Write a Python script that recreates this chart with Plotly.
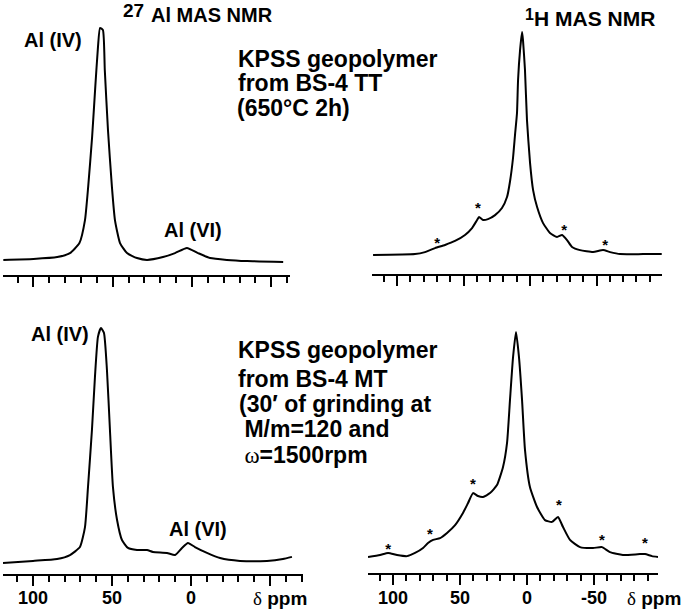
import plotly.graph_objects as go

W, H = 685, 612

# ---------------- data ----------------
# 27Al MAS NMR, geopolymer from BS-4 TT (chemical shift ppm, relative intensity)
al_tt_ppm = [119, 100, 85, 77, 71, 67.5, 65.5, 63, 61, 59.3, 58, 56.2, 55, 53, 50.5,
             48.6, 45.4, 41, 34.7, 28.4, 18.3, 10.7, 3.2, -3.8, -11.4, -22, -34.7, -57.5]
al_tt_int = [0.9, 1.3, 2.1, 3.8, 8.1, 17.9, 32, 53.4, 74.8, 91.9, 100, 99.1, 82, 56.4, 32,
             17.9, 8.1, 3.8, 1.7, 0.9, 2.1, 3.8, 6.0, 3.8, 1.7, 0.9, 0.4, 0]

# 1H MAS NMR, geopolymer from BS-4 TT
h_tt_ppm = [118, 86.5, 79, 71.4, 63.9, 56.4, 48.9, 43.6, 39.8, 38.3, 35.3, 31.6, 26.3,
            21.1, 17.3, 15, 12.8, 11.3, 9.8, 9, 7.5, 6, 5.3, 3.8, 2.3, 0, -2.3, -5.3,
            -9.8, -15, -20.3, -24.1, -27.8, -31.6, -37.6, -47.4, -54.9, -60.2, -67.7,
            -85, -99]
h_tt_int = [0, 0.4, 1.3, 3.1, 4.5, 6.3, 9, 12.1, 15.7, 17, 15.7, 16.1, 17.9,
            21.1, 26, 33.2, 43.5, 53.8, 63.7, 78.5, 91.9, 100, 96.4, 83, 60.5, 41.3, 29.1, 21.5,
            14.3, 9.9, 8.1, 9.0, 6.7, 3.6, 2.2, 1.3, 2.2, 1.3, 0.4,
            0.4, 0.4]

# 27Al MAS NMR, geopolymer from BS-4 MT
al_mt_ppm = [119, 100, 84.8, 76.6, 70.3, 67.1, 65.2, 62.7, 60.8, 58.9, 57, 55.1, 53.2,
             51.3, 49.4, 46.8, 43.7, 39.9, 34.2, 27.8, 24.1, 15.2, 10.1, 5.7, 1.9, -2.5,
             -10.1, -18.4, -31, -48.1, -58.2, -63.9]
al_mt_int = [0, 0.9, 1.7, 3.4, 6.8, 15.3, 32.3, 56.6, 79.1, 96.2, 100, 97.9, 82.1,
             56.6, 32.3, 18.3, 9.8, 6.4, 5.5, 5.5, 4.7, 4.3, 3.4, 6.4, 8.5, 6.8,
             4.3, 2.1, 0.9, 0.9, 1.7, 2.6]

# 1H MAS NMR, geopolymer from BS-4 MT
h_mt_ppm = [118.7, 109.7, 103.7, 97, 89.6, 83.6, 77.6, 73.9, 70.1, 64.9, 59.7, 53.7, 47.8,
            44, 40.3, 36.6, 32.8, 27.6, 22.4, 17.9, 14.9, 12.7, 10.4, 8.2, 6, 3.7, 1.5,
            -2.2, -7.5, -13.4, -18.7, -23.1, -26.9, -32.1, -39.6, -49.3, -56, -61.9,
            -71.6, -84.3, -88.1, -93.3, -97.8]
h_mt_int = [0, 0.9, 1.8, 0.9, 0.4, 1.8, 4, 6.2, 7.6, 8.4, 10.7, 14.2, 19.6,
            24, 28.4, 27.1, 26.7, 28.4, 32, 40, 50.7, 69.8, 88.9, 100, 88.9, 69.8, 47.6,
            31.1, 22.2, 16.4, 15.6, 17.8, 13.3, 7.6, 4.4, 4, 4.4, 2.2,
            0.9, 1.3, 1.3, 0.4, 0]

# spinning side bands (*)
sb_tt_ppm = [69.9, 39.1, -25.6, -56.4]
sb_tt_int = [5.0, 20.7, 10.8, 4.1]
sb_mt_ppm = [103.7, 72.4, 40.3, -23.9, -56.0, -88.1]
sb_mt_int = [3.1, 9.8, 32.0, 22.7, 7.1, 5.8]

major_ticks = [100, 50, 0, -50]
left_tick_labels = ["100", "50", "0"]
right_tick_labels = ["100", "50", "0", "-50"]

# ---------------- layout helpers ----------------
def px(x):
    return x / W


def py(y):
    return 1 - y / H


SANS = "Liberation Sans, Arial"
SERIF = "Liberation Serif, Times New Roman"


def xaxis(x0, x1, rng, anchor):
    return dict(domain=[px(x0), px(x1)], range=rng, anchor=anchor,
                showline=True, linecolor="black", linewidth=2,
                ticks="outside", ticklen=10, tickwidth=2, tickcolor="black",
                tickmode="array", tickvals=major_ticks, showticklabels=False,
                minor=dict(dtick=10, tick0=0, ticks="outside", ticklen=6,
                           tickwidth=1.5, tickcolor="black", showgrid=False),
                showgrid=False, zeroline=False, fixedrange=True)


def yaxis(y_axis_px, y_top_px, rng, anchor):
    return dict(domain=[py(y_axis_px), py(y_top_px)], range=rng, anchor=anchor,
                visible=False, fixedrange=True)


fig = go.Figure()

LINE = dict(color="black", width=2, shape="spline", smoothing=0.5)
for xs, ys, ax in [(al_tt_ppm, al_tt_int, ""), (h_tt_ppm, h_tt_int, "2"),
                   (al_mt_ppm, al_mt_int, "3"), (h_mt_ppm, h_mt_int, "4")]:
    fig.add_trace(go.Scatter(x=xs, y=ys, mode="lines", line=LINE,
                             xaxis="x" + ax, yaxis="y" + ax,
                             showlegend=False, hoverinfo="skip"))

STAR = dict(family=SANS, size=15, color="black", weight="bold")
fig.add_trace(go.Scatter(x=sb_tt_ppm, y=sb_tt_int, mode="text", text=["*"] * len(sb_tt_ppm),
                         textfont=STAR, textposition="middle center",
                         xaxis="x2", yaxis="y2", showlegend=False, hoverinfo="skip"))
fig.add_trace(go.Scatter(x=sb_mt_ppm, y=sb_mt_int, mode="text", text=["*"] * len(sb_mt_ppm),
                         textfont=STAR, textposition="middle center",
                         xaxis="x4", yaxis="y4", showlegend=False, hoverinfo="skip"))

annotations = []


def ann(text, x, y, size, anchor="left", xref="paper"):
    annotations.append(dict(text=text, x=(px(x) if xref == "paper" else x), y=py(y),
                            xref=xref, yref="paper",
                            xanchor=anchor, yanchor="middle", showarrow=False,
                            font=dict(family=SANS, size=size, color="black", weight="bold")))


def greek(ch):
    return ("<span style='font-family:" + SERIF + ";font-weight:normal'>" + ch + "</span>")


ann("27", 121, 10, 19)
ann("Al MAS NMR", 149, 15, 20)
ann("1", 523, 14, 16)
ann("H MAS NMR", 532, 18.5, 21)
ann("Al (IV)", 22, 40, 20)
ann("Al (VI)", 162, 229.5, 20)
ann("Al (IV)", 29, 334, 20)
ann("Al (VI)", 167, 528.5, 20)

KF = 23
ann("KPSS geopolymer", 236, 59, KF)
ann("from BS-4 TT", 236, 83.5, KF)
ann("(650°C 2h)", 235, 107.5, KF)
ann("KPSS geopolymer", 236, 350, KF)
ann("from BS-4 MT", 236, 379, KF)
ann("(30′ of grinding at", 237, 403.5, KF)
ann(" M/m=120 and", 236, 429.5, KF)
ann(" " + greek("ω") + "=1500rpm", 236, 454.5, KF)

# tick labels of the bottom axes, at the axis' own tick values
for v, t in zip(major_ticks, left_tick_labels):
    ann(t, v, 598, 18, anchor="center", xref="x3")
for v, t in zip(major_ticks, right_tick_labels):
    ann(t, v, 598, 18, anchor="center", xref="x4")

ann(greek("δ") + " ppm", 251, 598, 19)
ann(greek("δ") + " ppm", 625, 598, 19)

fig.update_layout(
    width=W, height=H, margin=dict(l=0, r=0, t=0, b=0),
    paper_bgcolor="white", plot_bgcolor="white",
    xaxis=xaxis(3, 290, [119.2, -61.8], "y"),
    yaxis=yaxis(275, 20, [-5.56, 103.4], "x"),
    xaxis2=xaxis(372, 662, [118.8, -99.2], "y2"),
    yaxis2=yaxis(274, 20, [-8.52, 105.4], "x2"),
    xaxis3=xaxis(3, 303, [119.0, -70.9], "y3"),
    yaxis3=yaxis(574, 320, [-4.68, 103.4], "x3"),
    xaxis4=xaxis(368, 658, [118.7, -97.8], "y4"),
    yaxis4=yaxis(573, 320, [-7.1, 105.3], "x4"),
    annotations=annotations,
)

fig.write_html("out.html", config={"displayModeBar": False},
               post_script="document.body.style.margin='0';")
